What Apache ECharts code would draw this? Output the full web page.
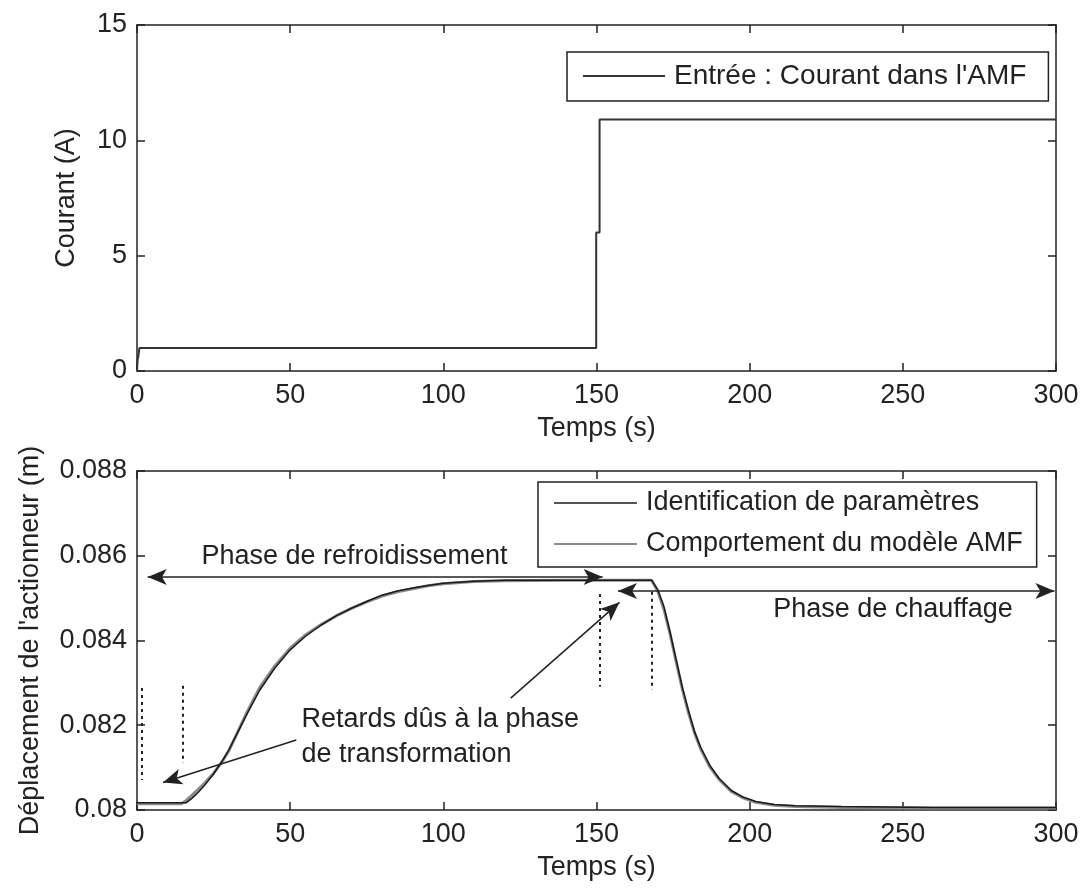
<!DOCTYPE html>
<html><head><meta charset="utf-8">
<script src="https://cdn.jsdelivr.net/npm/echarts@6/dist/echarts.min.js"></script>
<style>html,body{margin:0;padding:0;background:#fff}#c{width:1085px;height:888px}</style>
</head><body><div id="c"></div>
<script>
// ---- data ----
const xTickLabels = ['0','50','100','150','200','250','300'];
const currentTickLabels = ['0','5','10','15'];
const dispTickLabels = ['0.08','0.082','0.084','0.086','0.088'];

const currentName = "Entrée : Courant dans l'AMF";
const identName = 'Identification de paramètres';
const compName = 'Comportement du modèle AMF';

const tCurrent = [0, 0.2, 0.4, 0.8, 149.9, 149.9, 151, 151, 300];
const current  = [0, 0.5, 0.6, 1.0, 1.0, 6.0, 6.0, 10.9, 10.9];

const tDisp = [0, 14.5, 16, 18, 20, 22, 25, 28, 30, 33, 36, 40, 45, 50, 55, 60, 65, 70, 75, 80, 85, 90, 95, 100, 110, 120, 140, 160, 168, 170, 172, 174, 176, 178, 180, 182, 184, 187, 190, 194, 198, 202, 208, 215, 230, 260, 300];
const ident = [0.08017, 0.08017, 0.08017, 0.08028, 0.08042, 0.08058, 0.08085, 0.08118, 0.08142, 0.08185, 0.08228, 0.08282, 0.08335, 0.08378, 0.08410, 0.08436, 0.08458, 0.08476, 0.08492, 0.08507, 0.08517, 0.08524, 0.08530, 0.08535, 0.08540, 0.08542, 0.08542, 0.08542, 0.08542, 0.08520, 0.08480, 0.08420, 0.08355, 0.08290, 0.08235, 0.08185, 0.08148, 0.08105, 0.08075, 0.08046, 0.08030, 0.08020, 0.08013, 0.08010, 0.08008, 0.08006, 0.08006];
const comp  = [0.08015, 0.08015, 0.08022, 0.08035, 0.08049, 0.08063, 0.08087, 0.08116, 0.08140, 0.08186, 0.08232, 0.08288, 0.08340, 0.08382, 0.08413, 0.08437, 0.08458, 0.08476, 0.08491, 0.08505, 0.08515, 0.08522, 0.08529, 0.08534, 0.08539, 0.08541, 0.08542, 0.08542, 0.08542, 0.08516, 0.08474, 0.08416, 0.08350, 0.08286, 0.08230, 0.08182, 0.08144, 0.08102, 0.08072, 0.08044, 0.08028, 0.08018, 0.08011, 0.08008, 0.08006, 0.08005, 0.08005];

// annotations (data coordinates)
const coolArrow = [[3.5, 0.0855], [152, 0.0855]];
const heatArrow = [[157, 0.08517], [299.5, 0.08517]];
const delayArrow1 = [[52, 0.08165], [8.5, 0.08065]];
const delayArrow2 = [[122, 0.08264], [157.5, 0.0849]];
const dottedLines = [[1.7, 0.08288, 0.08071], [14.8, 0.08293, 0.08111], [151, 0.08510, 0.08291], [168, 0.08515, 0.08283]];
const coolText = ['Phase de refroidissement', 71, 0.08598];
const heatText = ['Phase de chauffage', 246.8, 0.08472];
const delayText = ['Retards dûs à la phase\nde transformation', 53.5, 0.08171];

// ---- chart ----
const FONT = 'Liberation Sans, Arial, sans-serif';
const INK = '#222';
const chart = echarts.init(document.getElementById('c'), null, {renderer: 'canvas'});

function xAx(g, pos, labels, name) {
  return {
    type: 'value', gridIndex: g, position: pos, min: 0, max: 300, interval: 50,
    axisLine: {show: true, onZero: false, lineStyle: {color: INK, width: 1.5}},
    axisTick: {show: true, inside: true, length: 8, lineStyle: {color: INK, width: 1.5}},
    axisLabel: {show: labels, margin: 11, fontSize: 27, fontFamily: FONT, color: INK,
      formatter: v => xTickLabels[Math.round(v / 50)]},
    splitLine: {show: false},
    name: name || '', nameLocation: 'middle', nameGap: 44,
    nameTextStyle: {fontSize: 27, fontFamily: FONT, color: INK}
  };
}
function yAx(g, pos, labels, min, max, interval, tickLabels, name, gap) {
  return {
    type: 'value', gridIndex: g, position: pos, min: min, max: max, interval: interval,
    axisLine: {show: true, onZero: false, lineStyle: {color: INK, width: 1.5}},
    axisTick: {show: true, inside: true, length: 8, lineStyle: {color: INK, width: 1.5}},
    axisLabel: {show: labels, margin: 10, fontSize: 27, fontFamily: FONT, color: INK,
      formatter: v => tickLabels[Math.round((v - min) / interval)]},
    splitLine: {show: false},
    name: name || '', nameLocation: 'middle', nameGap: gap || 0, nameRotate: 90,
    nameTextStyle: {fontSize: 27, fontFamily: FONT, color: INK}
  };
}

const pairs = (xs, ys) => xs.map((x, i) => [x, ys[i]]);
const arrowStyle = {color: INK, width: 1.5, type: 'solid'};
const dotStyle = {color: INK, width: 2, type: [3, 4]};

const markLines = [
  [{coord: coolArrow[0], symbol: 'arrow', lineStyle: arrowStyle}, {coord: coolArrow[1], symbol: 'arrow', lineStyle: arrowStyle}],
  [{coord: heatArrow[0], symbol: 'arrow', lineStyle: arrowStyle}, {coord: heatArrow[1], symbol: 'arrow', lineStyle: arrowStyle}],
  [{coord: delayArrow1[0], symbol: 'none', lineStyle: arrowStyle}, {coord: delayArrow1[1], symbol: 'arrow', lineStyle: arrowStyle}],
  [{coord: delayArrow2[0], symbol: 'none', lineStyle: arrowStyle}, {coord: delayArrow2[1], symbol: 'arrow', lineStyle: arrowStyle}]
].concat(dottedLines.map(d => [
  {coord: [d[0], d[1]], symbol: 'none', lineStyle: dotStyle},
  {coord: [d[0], d[2]], symbol: 'none', lineStyle: dotStyle}
]));

const textLabel = {show: true, fontSize: 27, fontFamily: FONT, color: INK, formatter: '{b}'};

const option = {
  animation: false,
  backgroundColor: '#fff',
  grid: [
    {left: 137, top: 25, width: 919, height: 346, show: false},
    {left: 137, top: 471, width: 919, height: 339, show: false}
  ],
  xAxis: [
    xAx(0, 'bottom', true, 'Temps (s)'),
    xAx(0, 'top', false),
    xAx(1, 'bottom', true, 'Temps (s)'),
    xAx(1, 'top', false)
  ],
  yAxis: [
    yAx(0, 'left', true, 0, 15, 5, currentTickLabels, 'Courant (A)', 57),
    yAx(0, 'right', false, 0, 15, 5, currentTickLabels),
    yAx(1, 'left', true, 0.08, 0.088, 0.002, dispTickLabels, "Déplacement de l'actionneur (m)", 93),
    yAx(1, 'right', false, 0.08, 0.088, 0.002, dispTickLabels)
  ],
  legend: [
    {data: [currentName], left: 567, top: 52, orient: 'vertical', icon: 'rect',
     itemWidth: 82, itemHeight: 2, padding: [9, 22, 10, 16], borderColor: INK, borderWidth: 1.5,
     backgroundColor: '#fff', selectedMode: false,
     textStyle: {fontSize: 28, fontFamily: FONT, color: INK, lineHeight: 30, padding: [0, 0, 0, 4]}},
    {data: [identName, compName], left: 538, top: 482, orient: 'vertical', icon: 'rect',
     itemWidth: 83, itemHeight: 2, itemGap: 11, padding: [6, 14, 8, 16], borderColor: INK, borderWidth: 1.5,
     backgroundColor: '#fff', selectedMode: false,
     textStyle: {fontSize: 27, fontFamily: FONT, color: INK, lineHeight: 30, padding: [0, 0, 0, 4]}}
  ],
  series: [
    {name: currentName, type: 'line', xAxisIndex: 0, yAxisIndex: 0, data: pairs(tCurrent, current),
     symbol: 'none', lineStyle: {color: '#333', width: 2}, itemStyle: {color: '#333'}},
    {name: compName, type: 'line', xAxisIndex: 2, yAxisIndex: 2, data: pairs(tDisp, comp),
     symbol: 'none', lineStyle: {color: '#8a8a8a', width: 3}, itemStyle: {color: '#8a8a8a'}, z: 2},
    {name: identName, type: 'line', xAxisIndex: 2, yAxisIndex: 2, data: pairs(tDisp, ident),
     symbol: 'none', lineStyle: {color: '#1a1a1a', width: 1.5}, itemStyle: {color: '#555'}, z: 3,
     markLine: {silent: true, symbolSize: [12, 19], label: {show: false}, emphasis: {disabled: true},
       data: markLines},
     markPoint: {silent: true, symbol: 'circle', symbolSize: 1, itemStyle: {color: 'rgba(0,0,0,0)'},
       data: [
         {name: coolText[0], coord: [coolText[1], coolText[2]], label: Object.assign({position: 'inside'}, textLabel)},
         {name: heatText[0], coord: [heatText[1], heatText[2]], label: Object.assign({position: 'inside'}, textLabel)},
         {name: delayText[0], coord: [delayText[1], delayText[2]], label: Object.assign({position: 'right', distance: 0, align: 'left', lineHeight: 35}, textLabel)}
       ]}}
  ]
};
chart.setOption(option);
</script></body></html>
